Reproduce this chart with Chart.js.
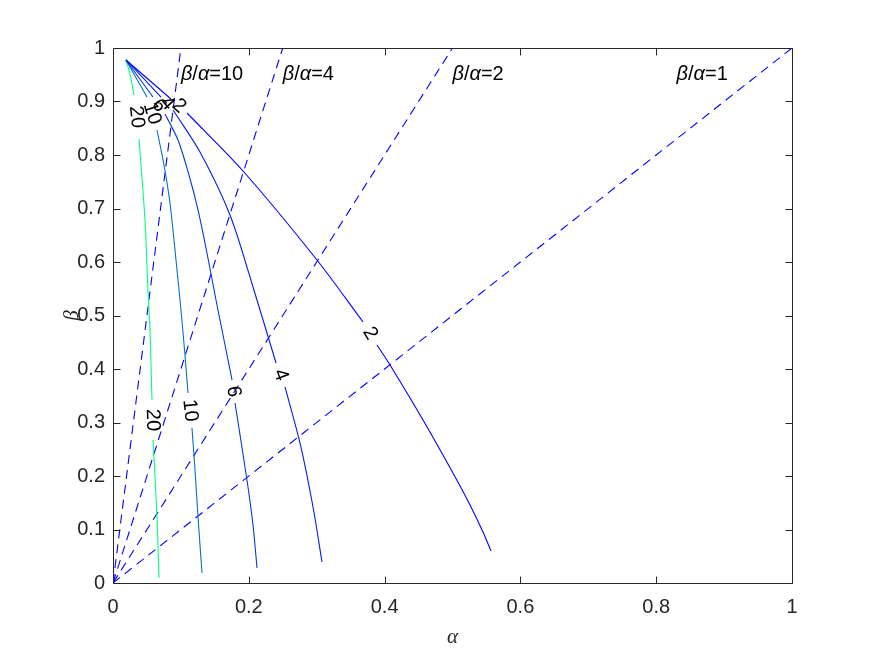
<!DOCTYPE html>
<html>
<head>
<meta charset="utf-8">
<script src="https://cdn.jsdelivr.net/npm/chart.js@4"></script>
<style>
  body { margin: 0; background: #fff; }
  #wrap { width: 875px; height: 657px; }
</style>
</head>
<body>
<div id="wrap"><canvas id="contourChart" width="875" height="657"></canvas></div>
<script>
// contour levels and their traced points (alpha, beta); null = gap where the label sits
const levels = [2, 4, 6, 10, 20];
const levelColors = ['#0000ff', '#001cf1', '#0039e3', '#0071c6', '#00ff80'];

const alpha2 = [0.0191, 0.0854, null, 0.1090, 0.1915, 0.3004, 0.3682, null, 0.3888, 0.4080, 0.4566, 0.5007, 0.5258, 0.5449, 0.5567];
const beta2  = [0.9776, 0.9047, null, 0.8785, 0.7701, 0.6037, 0.4879, null, 0.4449, 0.4075, 0.3047, 0.2056, 0.1458, 0.0953, 0.0598];

const alpha4 = [0.0191, 0.0707, null, 0.0884, 0.1281, 0.1723, 0.2062, 0.2401, null, 0.2533, 0.2754, 0.2946, 0.3078];
const beta4  = [0.9776, 0.9084, null, 0.8841, 0.8056, 0.6878, 0.5533, 0.4112, null, 0.3664, 0.2617, 0.1421, 0.0393];

const alpha6 = [0.0191, 0.0589, null, 0.0766, 0.0957, 0.1119, 0.1252, 0.1384, 0.1517, 0.1635, 0.1753, null, 0.1797, 0.1973, 0.2062, 0.2121];
const beta6  = [0.9776, 0.9084, null, 0.8766, 0.8280, 0.7626, 0.6972, 0.6168, 0.5290, 0.4542, 0.3794, null, 0.3364, 0.1925, 0.1084, 0.0280];

const alpha10 = [0.0191, 0.0501, null, 0.0648, 0.0751, 0.0839, 0.0928, 0.1001, 0.1060, 0.1105, null, 0.1163, 0.1208, 0.1252, 0.1311];
const beta10  = [0.9776, 0.9084, null, 0.8467, 0.7813, 0.7103, 0.6037, 0.5103, 0.4262, 0.3551, null, 0.2897, 0.2112, 0.1234, 0.0187];

const alpha20 = [0.0191, 0.0250, 0.0309, null, 0.0383, 0.0471, 0.0515, 0.0545, 0.0574, null, 0.0589, 0.0648, 0.0677];
const beta20  = [0.9776, 0.9514, 0.9121, null, 0.8299, 0.6785, 0.5477, 0.4729, 0.3421, null, 0.2673, 0.1234, 0.0093];

const contourAlpha = [alpha2, alpha4, alpha6, alpha10, alpha20];
const contourBeta = [beta2, beta4, beta6, beta10, beta20];

// dashed rays beta/alpha = const, from the origin to the top edge
const rayRatios = ['10', '4', '2', '1'];
const rayEndAlpha = [0.1, 0.25, 0.5, 1];
const rayEndBeta = [1, 1, 1, 1];
const rayTextAlpha = [0.1, 0.25, 0.5, 0.83];
const rayTextBeta = [0.95, 0.95, 0.95, 0.95];

const xTicks = [0, 0.2, 0.4, 0.6, 0.8, 1];
const yTicks = [0, 0.1, 0.2, 0.3, 0.4, 0.5, 0.6, 0.7, 0.8, 0.9, 1];

const axisColor = '#262626';
const tickFont = '"Liberation Sans", Arial, sans-serif';

const datasets = [];
contourAlpha.forEach((xs, k) => {
    datasets.push({
        data: xs.map((a, i) => ({ x: a, y: contourBeta[k][i] })),
        borderColor: levelColors[k],
        borderWidth: 1.1,
        tension: 0.3,
        pointRadius: 0,
        showLine: true,
        spanGaps: false,
        contourLabel: String(levels[k])
    });
});
rayRatios.forEach((r, k) => {
    datasets.push({
        data: [{ x: 0, y: 0 }, { x: rayEndAlpha[k], y: rayEndBeta[k] }],
        borderColor: '#0000ff',
        borderWidth: 1.1,
        borderDash: [9, 6],
        pointRadius: 0,
        showLine: true
    });
});

// draws a string with greek letters in italic
function drawMixed(ctx, str, x, y) {
    let cx = x;
    for (const ch of str) {
        const greek = /[\u03b1-\u03c9]/.test(ch);
        ctx.font = (greek ? 'italic ' : '') + '20px ' + tickFont;
        ctx.fillText(ch, cx, y);
        cx += ctx.measureText(ch).width;
    }
}

const labelPlugin = {
    id: 'contourLabels',
    afterDatasetsDraw(chart) {
        const ctx = chart.ctx;
        const xs = chart.scales.x, ys = chart.scales.y;
        ctx.save();
        ctx.fillStyle = '#000';
        ctx.textAlign = 'center';
        ctx.textBaseline = 'middle';
        ctx.font = '20px ' + tickFont;
        chart.data.datasets.forEach((ds, di) => {
            if (!ds.contourLabel) return;
            const pts = chart.getDatasetMeta(di).data;
            ds.data.forEach((d, i) => {
                if (d.y !== null) return;
                const p = pts[i - 1], n = pts[i + 1];
                let ang = Math.atan2(n.y - p.y, n.x - p.x);
                if (ang > Math.PI / 2) ang -= Math.PI;
                if (ang <= -Math.PI / 2) ang += Math.PI;
                ctx.save();
                ctx.translate((p.x + n.x) / 2, (p.y + n.y) / 2);
                ctx.rotate(ang);
                ctx.fillText(ds.contourLabel, 0, 0);
                ctx.restore();
            });
        });
        // ratio texts
        ctx.textAlign = 'left';
        ctx.fillStyle = '#000';
        rayRatios.forEach((r, k) => {
            drawMixed(ctx, '\u03b2/\u03b1=' + r, xs.getPixelForValue(rayTextAlpha[k]), ys.getPixelForValue(rayTextBeta[k]));
        });
        ctx.restore();
    },
    afterDraw(chart) {
        // MATLAB style box with inward ticks on all sides
        const { ctx, chartArea: a } = chart;
        const xs = chart.scales.x, ys = chart.scales.y;
        const L = Math.round(a.left) + 0.5, R = Math.round(a.right) + 0.5;
        const T = Math.round(a.top) + 0.5, B = Math.round(a.bottom) + 0.5;
        const len = 7;
        ctx.save();
        ctx.strokeStyle = axisColor;
        ctx.lineWidth = 1;
        ctx.beginPath();
        ctx.rect(L, T, R - L, B - T);
        xTicks.forEach(v => {
            const px = Math.round(xs.getPixelForValue(v)) + 0.5;
            ctx.moveTo(px, B); ctx.lineTo(px, B - len);
            ctx.moveTo(px, T); ctx.lineTo(px, T + len);
        });
        yTicks.forEach(v => {
            const py = Math.round(ys.getPixelForValue(v)) + 0.5;
            ctx.moveTo(L, py); ctx.lineTo(L + len, py);
            ctx.moveTo(R, py); ctx.lineTo(R - len, py);
        });
        ctx.stroke();
        ctx.restore();
    }
};

new Chart(document.getElementById('contourChart').getContext('2d'), {
    type: 'scatter',
    data: { datasets: datasets },
    options: {
        responsive: false,
        animation: false,
        devicePixelRatio: 1,
        layout: { padding: { top: 48, right: 83, left: 0, bottom: 0 } },
        plugins: { legend: { display: false }, tooltip: { enabled: false } },
        scales: {
            x: {
                type: 'linear',
                min: 0,
                max: 1,
                afterFit: s => { s.height = 74; },
                afterBuildTicks: s => { s.ticks = xTicks.map(v => ({ value: v })); },
                grid: { display: false, drawTicks: false },
                border: { display: false },
                ticks: {
                    padding: 12,
                    color: axisColor,
                    maxRotation: 0,
                    font: { family: tickFont, size: 20 },
                    callback: v => String(+v.toFixed(1))
                },
                title: {
                    display: true,
                    text: '\u03b1',
                    color: axisColor,
                    font: { family: '"Liberation Serif", serif', size: 21, style: 'italic' },
                    padding: { top: 7, bottom: 7 }
                }
            },
            y: {
                type: 'linear',
                min: 0,
                max: 1,
                afterFit: s => { s.width = 113; },
                afterBuildTicks: s => { s.ticks = yTicks.map(v => ({ value: v })); },
                grid: { display: false, drawTicks: false },
                border: { display: false },
                ticks: {
                    padding: 8,
                    color: axisColor,
                    font: { family: tickFont, size: 20 },
                    callback: v => String(+v.toFixed(1))
                },
                title: {
                    display: true,
                    text: '\u03b2',
                    color: axisColor,
                    font: { family: '"Liberation Serif", serif', size: 21, style: 'italic' },
                    padding: { top: 60, bottom: 60 }
                }
            }
        }
    },
    plugins: [labelPlugin]
});
</script>
</body>
</html>
